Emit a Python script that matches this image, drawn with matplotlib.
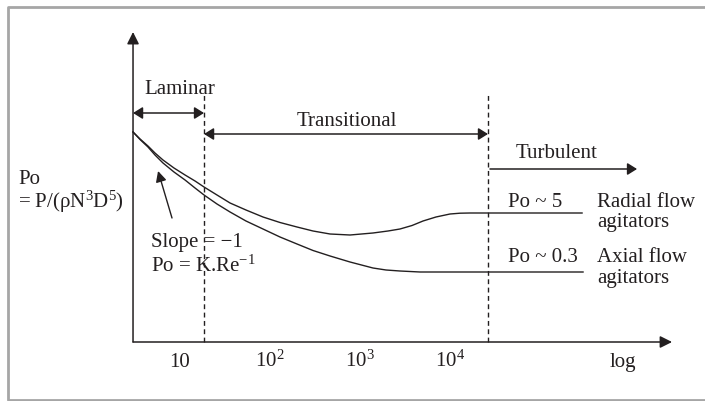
import matplotlib.pyplot as plt
from matplotlib.lines import Line2D

plt.rcParams['font.family'] = ['Liberation Serif', 'DejaVu Serif']
plt.rcParams['mathtext.fontset'] = 'custom'
plt.rcParams['mathtext.rm'] = 'Liberation Serif'
plt.rcParams['mathtext.it'] = 'Liberation Serif:italic'

# x in decades of Re (log10), y in arbitrary Po units
radial_x = [0.478, 0.556, 0.644, 0.722, 0.811, 0.933, 1.056, 1.167, 1.267, 1.411,
            1.556, 1.733, 1.922, 2.111, 2.300, 2.478, 2.667, 2.889, 3.144, 3.311,
            3.444, 3.578, 3.700, 3.844, 4.000, 4.111, 4.222, 5.467]
radial_y = [21.0, 20.3, 19.6, 18.9, 18.2, 17.4, 16.7, 16.1, 15.5, 14.7,
            13.9, 13.2, 12.5, 11.95, 11.5, 11.1, 10.8, 10.7, 10.9, 11.1,
            11.3, 11.65, 12.1, 12.5, 12.8, 12.88, 12.9, 12.9]

axial_x = [0.478, 0.556, 0.644, 0.722, 0.811, 0.933, 1.056, 1.167, 1.267, 1.411,
           1.556, 1.733, 1.922, 2.111, 2.300, 2.478, 2.667, 2.889, 3.144, 3.289,
           3.444, 3.667, 3.889, 5.478]
axial_y = [21.0, 20.25, 19.5, 18.7, 17.9, 17.0, 16.2, 15.4, 14.7, 13.8,
           13.0, 12.1, 11.3, 10.5, 9.8, 9.15, 8.6, 8.0, 7.4, 7.2,
           7.1, 7.0, 7.0, 7.0]

tick_pos = [1, 2, 3, 4]
tick_labels = ["10", "10$^{2}$", "10$^{3}$", "10$^{4}$"]

x0 = 0.478      # origin of the axes
x_lam = 1.267   # laminar / transitional boundary
x_turb = 4.422  # transitional / turbulent boundary
x_end = 6.467
y_top = 31.0

ink = "#231f20"
fs = 15

fig = plt.figure(figsize=(7.05, 4.01), dpi=100)
ax = fig.add_axes([0, 0, 1, 1])
ax.set_xlim(-1.0, 6.833)
ax.set_ylim(-5.9, 34.2)
ax.axis("off")

# grey frame (open on the right)
frame = Line2D([1.01, 8 / 705, 8 / 705, 1.01],
               [1 - 7 / 401, 1 - 7 / 401, 1.5 / 401, 1.5 / 401],
               transform=fig.transFigure, color="#a6a6a6", lw=2.0)
fig.add_artist(frame)

def arrow(tip, tail, style="-|>", ms=18, lw=1.1):
    ax.annotate("", xy=tip, xytext=tail,
                arrowprops=dict(arrowstyle=style, color=ink, lw=lw,
                                shrinkA=0, shrinkB=0, mutation_scale=ms))

# axes with arrows
arrow((x0, y_top), (x0, 0))
arrow((x_end, 0), (x0, 0))

# regime boundaries
for xb in [x_lam, x_turb]:
    ax.plot([xb, xb], [0, 25.0], color=ink, lw=1.0, ls=(0, (3.5, 2.5)))

# regime arrows
dbl = "<|-|>,head_length=0.32,head_width=0.2"
arrow((x_lam, 22.9), (x0, 22.9), style=dbl)
arrow((x_turb, 20.8), (x_lam, 20.8), style=dbl)
arrow((6.078, 17.3), (4.444, 17.3), style="-|>,head_length=0.32,head_width=0.2")
ax.text(1.0, 24.8, "Laminar", fontsize=fs, ha="center", va="baseline", color=ink)
ax.text(2.856, 21.6, "Transitional", fontsize=fs, ha="center", va="baseline", color=ink)
ax.text(4.733, 18.4, "Turbulent", fontsize=fs, ha="left", va="baseline", color=ink)

# power number curves
ax.plot(radial_x, radial_y, color=ink, lw=1.0, solid_joinstyle="round")
ax.plot(axial_x, axial_y, color=ink, lw=1.0, solid_joinstyle="round")

ax.text(4.644, 13.5, "Po ~ 5", fontsize=fs, va="baseline", color=ink)
ax.text(5.633, 13.5, "Radial flow", fontsize=fs, va="baseline", color=ink)
ax.text(5.633, 11.5, "agitators", fontsize=fs, va="baseline", color=ink)
ax.text(4.644, 8.0, "Po ~ 0.3", fontsize=fs, va="baseline", color=ink)
ax.text(5.633, 8.0, "Axial flow", fontsize=fs, va="baseline", color=ink)
ax.text(5.633, 5.9, "agitators", fontsize=fs, va="baseline", color=ink)

# laminar slope note
arrow((0.756, 17.1), (0.911, 12.4), style="-|>,head_length=0.4,head_width=0.2", ms=16, lw=1.0)
ax.text(0.678, 9.5, "Slope = \u22121", fontsize=fs, va="baseline", color=ink)
ax.text(0.678, 7.0, "Po = K.Re$^{-1}$", fontsize=fs, va="baseline", color=ink)

# y label
ax.text(-0.8, 15.8, "Po", fontsize=fs, va="baseline", color=ink)
ax.text(-0.8, 13.4, "= P/(\u03c1N$^{3}$D$^{5}$)", fontsize=fs, va="baseline", color=ink)

# x tick labels
for xt, lab in zip(tick_pos, tick_labels):
    ax.text(xt, -2.5, lab, fontsize=fs, ha="center", va="baseline", color=ink)
ax.text(5.922, -2.5, "log", fontsize=fs, ha="center", va="baseline", color=ink)

fig.savefig("out.png", dpi=100)
